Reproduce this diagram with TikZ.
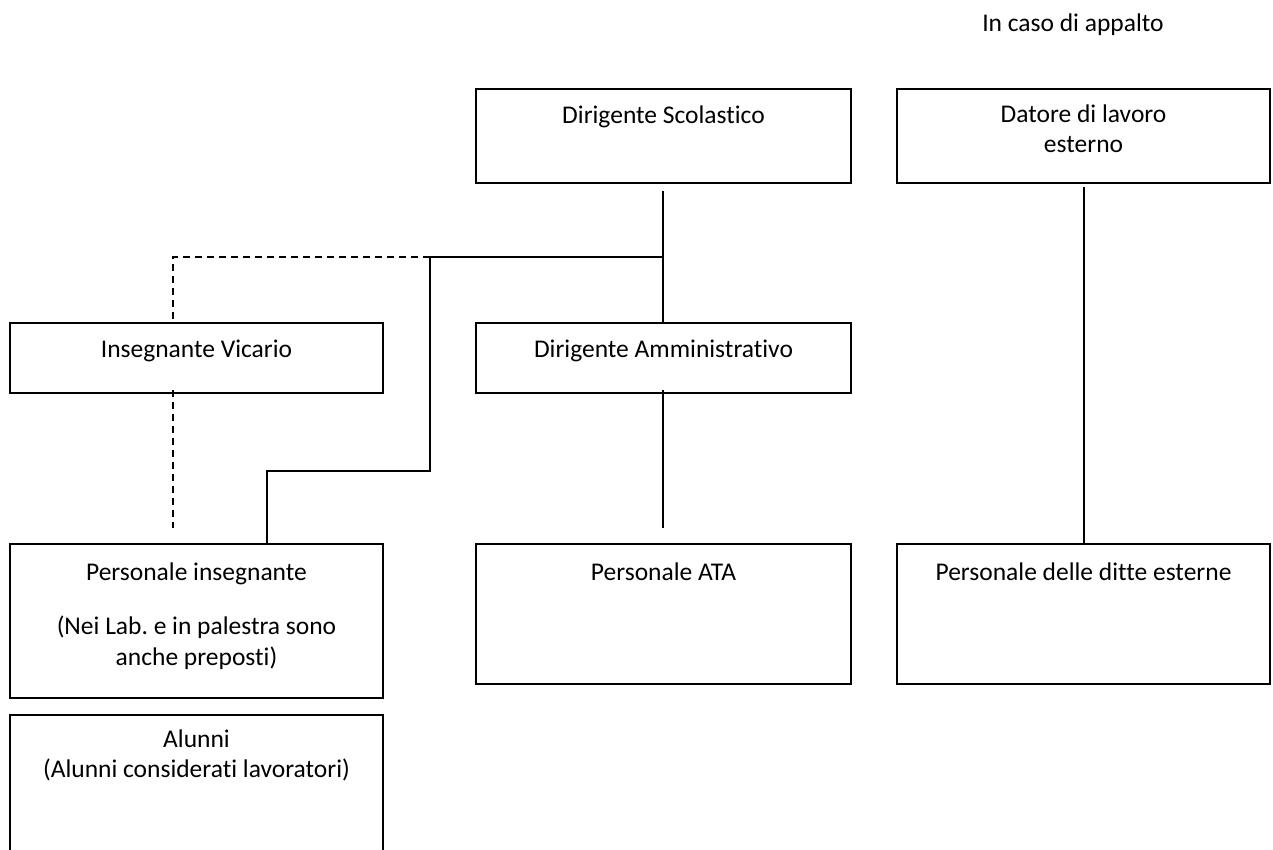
\documentclass[tikz,border=0pt]{standalone}
\usepackage{fontspec}
\setmainfont[Ligatures={NoCommon}]{Carlito}
\frenchspacing
\begin{document}
\begin{tikzpicture}[x=1pt,y=-1pt,
  box/.style={draw,line width=1.7pt,rectangle,inner sep=0pt,outer sep=0pt,anchor=north west},
  txt/.style={anchor=base,inner sep=0pt,font=\fontsize{25.5}{31}\selectfont},
  conn/.style={line width=1.6pt},
  dconn/.style={line width=1.6pt,dash pattern=on 7pt off 5pt}]
\useasboundingbox (0,0) rectangle (1273,850);
\begin{scope}
\clip (0,0) rectangle (1273,850);
% boxes
\node[box,minimum width=375pt,minimum height=94pt] (ds) at (476,89) {};
\node[box,minimum width=373pt,minimum height=94pt] (dle) at (897,89) {};
\node[box,minimum width=373pt,minimum height=70pt] (iv) at (10,323) {};
\node[box,minimum width=375pt,minimum height=70pt] (da) at (476,323) {};
\node[box,minimum width=373pt,minimum height=154pt] (pi) at (10,544) {};
\node[box,minimum width=375pt,minimum height=140pt] (ata) at (476,544) {};
\node[box,minimum width=373pt,minimum height=140pt] (pde) at (897,544) {};
\node[box,minimum width=373pt,minimum height=200pt] (al) at (10,715) {};
\end{scope}
% texts
\node[txt] (app) at (1073,32) {In caso di appalto};
\node[txt] (dst) at (663.5,124) {Dirigente Scolastico};
\node[txt] (dlet1) at (1083.5,123) {Datore di lavoro};
\node[txt] (dlet2) at (1083.5,153) {esterno};
\node[txt] (ivt) at (196.5,357) {Insegnante Vicario};
\node[txt] (dat) at (663.5,357) {Dirigente Amministrativo};
\node[txt] (pit1) at (196.5,580) {Personale insegnante};
\node[txt] (pit2) at (196.5,634) {(Nei Lab. e in palestra sono};
\node[txt] (pit3) at (196.5,665) {anche preposti)};
\node[txt] (atat) at (663.5,580) {Personale ATA};
\node[txt] (pdet) at (1083.5,580) {Personale delle ditte esterne};
\node[txt] (alt1) at (196.5,747) {Alunni};
\node[txt] (alt2) at (196.5,777) {(Alunni considerati lavoratori)};
% junction coordinates
\coordinate (j) at (430,257);
\coordinate (jm) at (663,257);
\coordinate (k1) at (430,471);
\coordinate (k2) at (267,471);
\coordinate (d1) at (173,257);
\coordinate (ivb) at (173,390);
\coordinate (ive) at (173,528);
\coordinate (dsb) at (663,191);
\coordinate (dab) at (663,390);
\coordinate (ate) at (663,528);
\coordinate (dleb) at (1084,187);
% connectors
\draw[conn] (dsb) -- (dsb |- da.north);
\draw[conn] (j) -- (jm);
\draw[conn] (j) -- (k1) -- (k2) -- (k2 |- pi.north);
\draw[dconn] (j) -- (d1) -- (d1 |- iv.north);
\draw[dconn] (ivb) -- (ive);
\draw[conn] (dab) -- (ate);
\draw[conn] (dleb) -- (dleb |- pde.north);
\end{tikzpicture}
\end{document}
